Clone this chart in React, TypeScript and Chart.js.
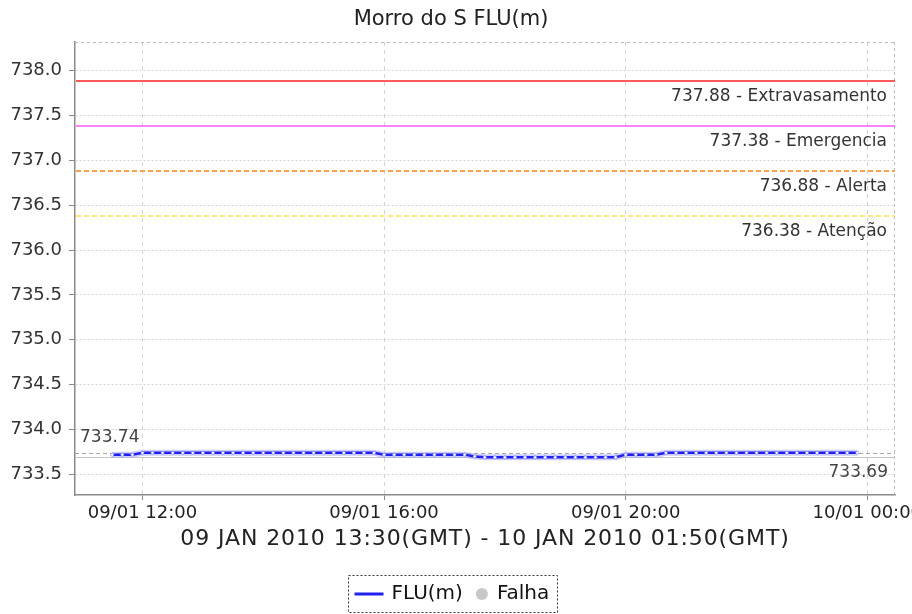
import React, { useEffect, useRef } from 'react';
import { Chart, registerables } from 'chart.js';

Chart.register(...registerables);

// ---------- data ----------
const chartTitle = 'Morro do S FLU(m)';
const xAxisTitle = '09 JAN 2010 13:30(GMT) - 10 JAN 2010 01:50(GMT)';
const seriesLabel = 'FLU(m)';
const failLabel = 'Falha';

// local time on 09/01 (10-minute readings)
const times = [
  '11:30', '11:40', '11:50',
  '12:00', '12:10', '12:20', '12:30', '12:40', '12:50',
  '13:00', '13:10', '13:20', '13:30', '13:40', '13:50',
  '14:00', '14:10', '14:20', '14:30', '14:40', '14:50',
  '15:00', '15:10', '15:20', '15:30', '15:40', '15:50',
  '16:00', '16:10', '16:20', '16:30', '16:40', '16:50',
  '17:00', '17:10', '17:20', '17:30', '17:40', '17:50',
  '18:00', '18:10', '18:20', '18:30', '18:40', '18:50',
  '19:00', '19:10', '19:20', '19:30', '19:40', '19:50',
  '20:00', '20:10', '20:20', '20:30', '20:40', '20:50',
  '21:00', '21:10', '21:20', '21:30', '21:40', '21:50',
  '22:00', '22:10', '22:20', '22:30', '22:40', '22:50',
  '23:00', '23:10', '23:20', '23:30', '23:40', '23:50',
];

const levels = [
  733.72, 733.72, 733.72,
  733.74, 733.74, 733.74, 733.74, 733.74, 733.74,
  733.74, 733.74, 733.74, 733.74, 733.74, 733.74,
  733.74, 733.74, 733.74, 733.74, 733.74, 733.74,
  733.74, 733.74, 733.74, 733.74, 733.74, 733.74,
  733.72, 733.72, 733.72, 733.72, 733.72, 733.72,
  733.72, 733.72, 733.72, 733.70, 733.69, 733.69,
  733.69, 733.69, 733.69, 733.69, 733.69, 733.69,
  733.69, 733.69, 733.69, 733.69, 733.69, 733.69,
  733.72, 733.72, 733.72, 733.72, 733.74, 733.74,
  733.74, 733.74, 733.74, 733.74, 733.74, 733.74,
  733.74, 733.74, 733.74, 733.74, 733.74, 733.74,
  733.74, 733.74, 733.74, 733.74, 733.74, 733.74,
];

const failures: { x: number; y: number }[] = [];

// minutes since 09/01 00:00 (local)
const xTickValues = [720, 960, 1200, 1440];
const xTickLabels = ['09/01 12:00', '09/01 16:00', '09/01 20:00', '10/01 00:00'];
const yTickValues = [733.5, 734.0, 734.5, 735.0, 735.5, 736.0, 736.5, 737.0, 737.5, 738.0];

const thresholdValues = [737.88, 737.38, 736.88, 736.38];
const thresholdNames = ['Extravasamento', 'Emergencia', 'Alerta', 'Atenção'];

// ---------- styles ----------
const thresholdColors = ['#ff5a5a', '#ff5aff', '#ffa050', '#ffe050'];
const thresholdDashes = [[], [], [5, 3], [5, 3]];
const thresholdWidths = [2, 1.5, 2, 1.5];
const FONT = '"DejaVu Sans", sans-serif';

const toMinutes = (t: string) => {
  const [h, m] = t.split(':').map(Number);
  return h * 60 + m;
};

const points = times.map((t, i) => ({ x: toMinutes(t), y: levels[i] }));

const overlayPlugin = {
  id: 'overlay',
  beforeDatasetsDraw(chart: any) {
    const { ctx, chartArea: a, scales } = chart;
    const y = scales.y;
    ctx.save();
    // top / right frame (dashed)
    ctx.lineWidth = 1;
    ctx.strokeStyle = '#bdbdbd';
    ctx.setLineDash([3, 3]);
    ctx.beginPath();
    ctx.moveTo(a.left, a.top + 0.5);
    ctx.lineTo(a.right, a.top + 0.5);
    ctx.moveTo(a.right - 0.5, a.top);
    ctx.lineTo(a.right - 0.5, a.bottom);
    ctx.stroke();

    // threshold lines + labels
    ctx.font = `17px ${FONT}`;
    ctx.textAlign = 'right';
    ctx.textBaseline = 'middle';
    thresholdValues.forEach((v, i) => {
      const py = Math.round(y.getPixelForValue(v));
      ctx.strokeStyle = thresholdColors[i];
      ctx.setLineDash(thresholdDashes[i]);
      ctx.lineWidth = thresholdWidths[i];
      ctx.beginPath();
      ctx.moveTo(a.left + 1, py);
      ctx.lineTo(a.right, py);
      ctx.stroke();
      ctx.fillStyle = '#333';
      ctx.fillText(`${v.toFixed(2)} - ${thresholdNames[i]}`, a.right - 8, py + 16);
    });

    // max / min reference lines
    const maxV = Math.max(...levels);
    const minV = Math.min(...levels);
    const pMax = Math.round(y.getPixelForValue(maxV)) + 0.5;
    const pMin = Math.round(y.getPixelForValue(minV)) + 0.5;
    ctx.lineWidth = 1;
    ctx.strokeStyle = '#a8a8a8';
    ctx.setLineDash([4, 3]);
    ctx.beginPath();
    ctx.moveTo(a.left, pMax);
    ctx.lineTo(a.right, pMax);
    ctx.stroke();
    ctx.strokeStyle = '#c4c4c4';
    ctx.setLineDash([]);
    ctx.beginPath();
    ctx.moveTo(a.left, pMin);
    ctx.lineTo(a.right, pMin);
    ctx.stroke();
    ctx.fillStyle = '#444';
    ctx.textAlign = 'left';
    ctx.fillText(maxV.toFixed(2), a.left + 5, pMax - 16);
    ctx.textAlign = 'right';
    ctx.fillText(minV.toFixed(2), a.right - 7, pMin + 15);
    ctx.restore();
  },
  afterDraw(chart: any) {
    const { ctx, chartArea: a } = chart;
    ctx.save();
    ctx.fillStyle = '#222';
    ctx.textBaseline = 'middle';
    ctx.textAlign = 'center';
    // title
    ctx.font = `21px ${FONT}`;
    ctx.fillText(chartTitle, 451, 20);
    // x axis title
    ctx.font = `22px ${FONT}`;
    (ctx as any).letterSpacing = '0.9px';
    ctx.fillText(xAxisTitle, (a.left + a.right) / 2, 539);
    (ctx as any).letterSpacing = '0px';

    // legend
    ctx.font = `20px ${FONT}`;
    const w1 = ctx.measureText(seriesLabel).width;
    const w2 = ctx.measureText(failLabel).width;
    const total = 6 + 29 + 8 + w1 + 13 + 12 + 9 + w2 + 8;
    const bx = Math.round(452 - total / 2) + 0.5;
    const by = 575.5;
    const bh = 37;
    const cy = by + bh / 2;
    ctx.strokeStyle = '#333';
    ctx.lineWidth = 1;
    ctx.setLineDash([2, 2]);
    ctx.strokeRect(bx, by, Math.round(total), bh);
    ctx.setLineDash([]);
    let cx = bx + 6;
    ctx.strokeStyle = '#1f1fef';
    ctx.lineWidth = 3;
    ctx.beginPath();
    ctx.moveTo(cx, cy);
    ctx.lineTo(cx + 29, cy);
    ctx.stroke();
    cx += 29 + 8;
    ctx.textAlign = 'left';
    ctx.fillStyle = '#111';
    ctx.fillText(seriesLabel, cx, cy);
    cx += w1 + 13;
    ctx.fillStyle = '#c8c8c8';
    ctx.beginPath();
    ctx.arc(cx + 6, cy, 6, 0, Math.PI * 2);
    ctx.fill();
    cx += 12 + 9;
    ctx.fillStyle = '#111';
    ctx.fillText(failLabel, cx, cy);
    ctx.restore();
  },
};

export default function App() {
  const ref = useRef<HTMLCanvasElement>(null);
  useEffect(() => {
    const chart = new Chart(ref.current as HTMLCanvasElement, {
      type: 'line',
      data: {
        datasets: [
          {
            label: 'halo',
            data: points,
            borderColor: 'rgba(165,165,255,0.55)',
            borderWidth: 6,
            pointRadius: 0,
            tension: 0,
            order: 3,
          },
          {
            label: seriesLabel,
            data: points,
            borderColor: '#1f1fef',
            borderWidth: 2.5,
            pointRadius: 1.6,
            pointBackgroundColor: '#ffffff',
            pointBorderColor: '#7070ff',
            pointBorderWidth: 0.6,
            tension: 0,
            order: 2,
          },
          {
            label: failLabel,
            data: failures,
            showLine: false,
            pointBackgroundColor: '#c8c8c8',
            pointBorderColor: '#c8c8c8',
            pointRadius: 5,
            order: 1,
          },
        ],
      },
      options: {
        animation: false,
        responsive: false,
        devicePixelRatio: 1,
        layout: { padding: { left: 0, right: 17, top: 42, bottom: 79 } },
        plugins: {
          legend: { display: false },
          title: { display: false },
          tooltip: { enabled: false },
        },
        scales: {
          x: {
            type: 'linear',
            min: 653,
            max: 1467.5,
            afterBuildTicks: (scale: any) => {
              scale.ticks = xTickValues.map((v) => ({ value: v }));
            },
            afterFit: (scale: any) => {
              scale.height = 40;
              scale.paddingLeft = 0;
              scale.paddingRight = 0;
            },
            ticks: {
              autoSkip: false,
              maxRotation: 0,
              minRotation: 0,
              padding: 3,
              color: '#222',
              font: { family: 'DejaVu Sans', size: 18 },
              callback: (v: any) => {
                const idx = xTickValues.indexOf(Number(v));
                return idx >= 0 ? xTickLabels[idx] : '';
              },
            },
            grid: {
              color: '#d4d4d4',
              lineWidth: 1,
              tickLength: 5,
              tickColor: '#888',
              tickWidth: 1,
            },
            border: { display: true, color: '#8a8a8a', width: 1.5, dash: [4, 4] },
          },
          y: {
            type: 'linear',
            min: 733.27,
            max: 738.32,
            afterBuildTicks: (scale: any) => {
              scale.ticks = yTickValues.map((v) => ({ value: v }));
            },
            afterFit: (scale: any) => {
              scale.width = 75;
              scale.paddingTop = 0;
              scale.paddingBottom = 0;
            },
            ticks: {
              padding: 7,
              color: '#333',
              font: { family: 'DejaVu Sans', size: 18 },
              callback: (v: any) => Number(v).toFixed(1),
            },
            grid: {
              color: '#d4d4d4',
              lineWidth: 1,
              tickLength: 6,
              tickColor: '#888',
              tickWidth: 1,
            },
            border: { display: true, color: '#8a8a8a', width: 1.5, dash: [2, 2] },
          },
        },
      },
      plugins: [overlayPlugin],
    } as any);
    return () => chart.destroy();
  }, []);
  return (
    <div style={{ position: 'fixed', left: 0, top: 0, width: 912, height: 614, background: '#fff' }}>
      <canvas ref={ref} width={912} height={614} style={{ display: 'block', width: 912, height: 614 }} />
    </div>
  );
}
